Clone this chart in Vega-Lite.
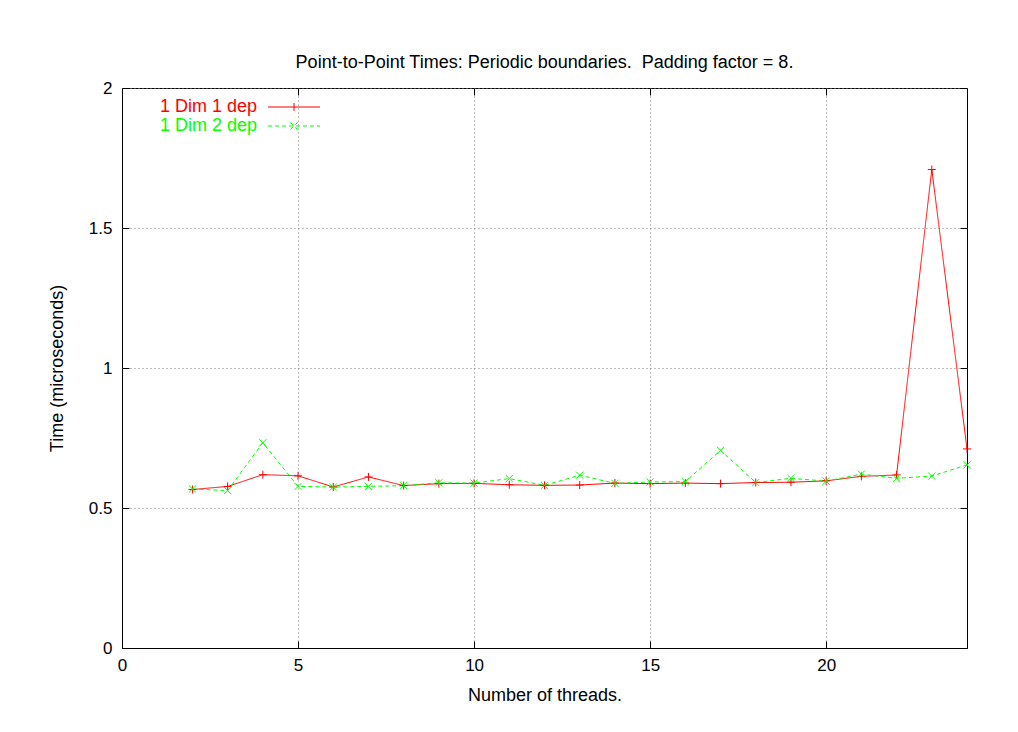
{
  "$schema": "https://vega.github.io/schema/vega-lite/v6.json",
  "autosize": "none",
  "padding": {"left": 122, "top": 88, "right": 51, "bottom": 84},
  "width": 845,
  "height": 560,
  "background": "white",
  "title": {
    "text": "Point-to-Point Times: Periodic boundaries.\u00a0 Padding factor = 8.",
    "font": "Liberation Sans",
    "fontSize": 18,
    "fontWeight": "normal",
    "color": "black",
    "anchor": "middle",
    "offset": 7
  },
  "config": {
    "view": {"stroke": "black", "strokeWidth": 1},
    "font": "Liberation Sans",
    "axis": {
      "labelFont": "Liberation Sans",
      "titleFont": "Liberation Sans",
      "labelFontSize": 17,
      "titleFontSize": 18,
      "titleFontWeight": "normal",
      "labelColor": "black",
      "titleColor": "black",
      "labelFlush": false,
      "domain": false,
      "tickColor": "black",
      "tickSize": -7,
      "gridColor": "#808080",
      "gridDash": [1, 3],
      "gridOpacity": {"condition": {"test": "datum.value == 0", "value": 0}, "value": 1}
    }
  },
  "data": {
    "values": [
      {"threads": 2, "time": 0.566, "series": "1 Dim 1 dep"},
      {"threads": 3, "time": 0.577, "series": "1 Dim 1 dep"},
      {"threads": 4, "time": 0.619, "series": "1 Dim 1 dep"},
      {"threads": 5, "time": 0.615, "series": "1 Dim 1 dep"},
      {"threads": 6, "time": 0.575, "series": "1 Dim 1 dep"},
      {"threads": 7, "time": 0.611, "series": "1 Dim 1 dep"},
      {"threads": 8, "time": 0.580, "series": "1 Dim 1 dep"},
      {"threads": 9, "time": 0.587, "series": "1 Dim 1 dep"},
      {"threads": 10, "time": 0.588, "series": "1 Dim 1 dep"},
      {"threads": 11, "time": 0.583, "series": "1 Dim 1 dep"},
      {"threads": 12, "time": 0.581, "series": "1 Dim 1 dep"},
      {"threads": 13, "time": 0.582, "series": "1 Dim 1 dep"},
      {"threads": 14, "time": 0.589, "series": "1 Dim 1 dep"},
      {"threads": 15, "time": 0.587, "series": "1 Dim 1 dep"},
      {"threads": 16, "time": 0.589, "series": "1 Dim 1 dep"},
      {"threads": 17, "time": 0.587, "series": "1 Dim 1 dep"},
      {"threads": 18, "time": 0.591, "series": "1 Dim 1 dep"},
      {"threads": 19, "time": 0.592, "series": "1 Dim 1 dep"},
      {"threads": 20, "time": 0.597, "series": "1 Dim 1 dep"},
      {"threads": 21, "time": 0.613, "series": "1 Dim 1 dep"},
      {"threads": 22, "time": 0.618, "series": "1 Dim 1 dep"},
      {"threads": 23, "time": 1.709, "series": "1 Dim 1 dep"},
      {"threads": 24, "time": 0.711, "series": "1 Dim 1 dep"},
      {"threads": 2, "time": 0.568, "series": "1 Dim 2 dep"},
      {"threads": 3, "time": 0.562, "series": "1 Dim 2 dep"},
      {"threads": 4, "time": 0.733, "series": "1 Dim 2 dep"},
      {"threads": 5, "time": 0.577, "series": "1 Dim 2 dep"},
      {"threads": 6, "time": 0.575, "series": "1 Dim 2 dep"},
      {"threads": 7, "time": 0.577, "series": "1 Dim 2 dep"},
      {"threads": 8, "time": 0.580, "series": "1 Dim 2 dep"},
      {"threads": 9, "time": 0.590, "series": "1 Dim 2 dep"},
      {"threads": 10, "time": 0.589, "series": "1 Dim 2 dep"},
      {"threads": 11, "time": 0.605, "series": "1 Dim 2 dep"},
      {"threads": 12, "time": 0.581, "series": "1 Dim 2 dep"},
      {"threads": 13, "time": 0.617, "series": "1 Dim 2 dep"},
      {"threads": 14, "time": 0.588, "series": "1 Dim 2 dep"},
      {"threads": 15, "time": 0.593, "series": "1 Dim 2 dep"},
      {"threads": 16, "time": 0.594, "series": "1 Dim 2 dep"},
      {"threads": 17, "time": 0.706, "series": "1 Dim 2 dep"},
      {"threads": 18, "time": 0.591, "series": "1 Dim 2 dep"},
      {"threads": 19, "time": 0.606, "series": "1 Dim 2 dep"},
      {"threads": 20, "time": 0.596, "series": "1 Dim 2 dep"},
      {"threads": 21, "time": 0.621, "series": "1 Dim 2 dep"},
      {"threads": 22, "time": 0.606, "series": "1 Dim 2 dep"},
      {"threads": 23, "time": 0.614, "series": "1 Dim 2 dep"},
      {"threads": 24, "time": 0.654, "series": "1 Dim 2 dep"}
    ]
  },
  "layer": [
    {
      "mark": {"type": "line", "strokeWidth": 1, "clip": true},
      "encoding": {
        "x": {
          "field": "threads", "type": "quantitative",
          "scale": {"domain": [0, 24], "nice": false, "zero": false},
          "axis": {"orient": "bottom", "values": [0, 5, 10, 15, 20], "title": "Number of threads.", "labelPadding": 16, "titlePadding": 13, "grid": true}
        },
        "y": {
          "field": "time", "type": "quantitative",
          "scale": {"domain": [0, 2], "nice": false, "zero": false},
          "axis": {"orient": "left", "values": [0, 0.5, 1, 1.5, 2], "format": "~g", "title": "Time (microseconds)", "labelPadding": 17, "titlePadding": 22, "grid": true}
        },
        "stroke": {
          "field": "series", "type": "nominal",
          "scale": {"domain": ["1 Dim 1 dep", "1 Dim 2 dep"], "range": ["#ff0000", "#00ff00"]},
          "legend": {
            "orient": "none",
            "legendX": 0,
            "legendY": 10,
            "title": null,
            "padding": 0,
            "labelFont": "Liberation Sans",
            "labelFontSize": 18,
            "rowPadding": 1,
            "symbolType": "M-6.5,0L6.5,0M0,-1L0,1",
            "symbolSize": 64,
            "symbolStrokeWidth": 1,
            "encode": {
              "labels": {"update": {
                "x": {"value": 135},
                "align": {"value": "right"},
                "fill": {"signal": "datum.value == '1 Dim 1 dep' ? '#ff0000' : '#00ff00'"}
              }},
              "symbols": {"update": {
                "x": {"value": 172},
                "shape": {"signal": "datum.value == '1 Dim 1 dep' ? 'M-6.5,0L6.5,0M0,-1L0,1' : 'M-6.5,0L6.5,0M-0.9,-0.9L0.9,0.9M-0.9,0.9L0.9,-0.9'"},
                "strokeDash": {"signal": "datum.value == '1 Dim 1 dep' ? [1, 0] : [4, 3]"},
                "fill": {"value": "transparent"}
              }}
            }
          }
        },
        "strokeDash": {
          "field": "series", "type": "nominal",
          "scale": {"domain": ["1 Dim 1 dep", "1 Dim 2 dep"], "range": [[1, 0], [4, 3]]},
          "legend": null
        }
      }
    },
    {
      "transform": [{"filter": "datum.series == '1 Dim 1 dep'"}],
      "mark": {"type": "point", "filled": false, "strokeWidth": 1, "size": 64, "opacity": 1, "shape": "M-1,0L1,0M0,-1L0,1"},
      "encoding": {
        "x": {
          "field": "threads", "type": "quantitative",
          "axis": {"orient": "top", "values": [0, 5, 10, 15, 20], "labels": false, "title": null, "grid": false}
        },
        "y": {
          "field": "time", "type": "quantitative",
          "axis": {"orient": "right", "values": [0, 0.5, 1, 1.5, 2], "labels": false, "title": null, "grid": false}
        },
        "stroke": {"field": "series", "type": "nominal", "legend": null}
      }
    },
    {
      "transform": [{"filter": "datum.series == '1 Dim 2 dep'"}],
      "mark": {"type": "point", "filled": false, "strokeWidth": 1, "size": 64, "opacity": 1, "shape": "M-0.9,-0.9L0.9,0.9M-0.9,0.9L0.9,-0.9"},
      "encoding": {
        "x": {"field": "threads", "type": "quantitative", "axis": null},
        "y": {"field": "time", "type": "quantitative", "axis": null},
        "stroke": {"field": "series", "type": "nominal", "legend": null}
      }
    }
  ],
  "resolve": {"axis": {"x": "independent", "y": "independent"}}
}
